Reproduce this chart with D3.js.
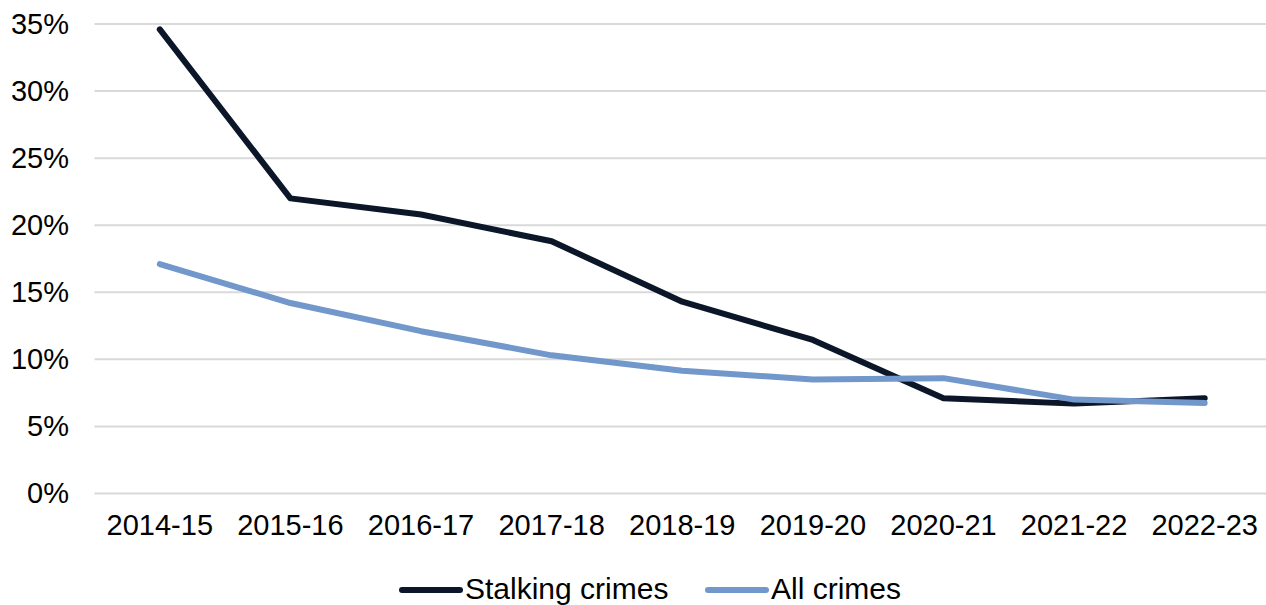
<!DOCTYPE html>
<html>
<head>
<meta charset="utf-8">
<script src="https://cdn.jsdelivr.net/npm/d3@7"></script>
<style>
  html, body { margin: 0; padding: 0; background: #fff; }
  svg { display: block; font-family: "Liberation Sans", Arial, sans-serif; }
</style>
</head>
<body>
<svg id="chart" width="1266" height="605"></svg>
<script>
// Financial years on the x axis
const years = ["2014-15", "2015-16", "2016-17", "2017-18", "2018-19", "2019-20", "2020-21", "2021-22", "2022-23"];
// Percentage values per series
const stalkingCrimes = [34.6, 22.0, 20.8, 18.8, 14.3, 11.45, 7.1, 6.7, 7.1];
const allCrimes = [17.1, 14.2, 12.1, 10.3, 9.15, 8.5, 8.6, 7.0, 6.75];
const yTicks = [0, 5, 10, 15, 20, 25, 30, 35];
const seriesNames = ["Stalking crimes", "All crimes"];
const seriesColors = ["#0b1628", "#7297cb"];

(function () {
  const svg = d3.select("#chart");
  const plotLeft = 94.5, plotRight = 1270, plotTop = 24, plotBottom = 493.5;

  const x = d3.scaleBand().domain(years).range([plotLeft, plotRight]);
  const y = d3.scaleLinear().domain([0, 35]).range([plotBottom, plotTop]);

  // Horizontal gridlines
  svg.append("g")
    .selectAll("line")
    .data(yTicks)
    .join("line")
    .attr("x1", plotLeft).attr("x2", plotRight)
    .attr("y1", d => y(d)).attr("y2", d => y(d))
    .attr("stroke", "#d9d9d9").attr("stroke-width", 2);

  // Y axis labels
  const yAxis = d3.axisLeft(y).tickValues(yTicks).tickFormat(d => d + "%").tickSize(0).tickPadding(0);
  svg.append("g")
    .attr("transform", "translate(69,0)")
    .call(yAxis)
    .call(g => g.select(".domain").remove())
    .call(g => g.selectAll("text").attr("font-size", 29).attr("fill", "#000")
      .attr("font-family", "'Liberation Sans', Arial, sans-serif"));

  // X axis labels
  const xAxis = d3.axisBottom(x).tickSize(0).tickPadding(0);
  svg.append("g")
    .attr("transform", "translate(0,514)")
    .call(xAxis)
    .call(g => g.select(".domain").remove())
    .call(g => g.selectAll("text").attr("font-size", 29).attr("fill", "#000")
      .attr("font-family", "'Liberation Sans', Arial, sans-serif"));

  const line = d3.line()
    .x((d, i) => x(years[i]) + x.bandwidth() / 2)
    .y(d => y(d));

  // Series lines (All crimes drawn last, on top)
  [stalkingCrimes, allCrimes].forEach((vals, k) => {
    svg.append("path")
      .datum(vals)
      .attr("d", line)
      .attr("fill", "none")
      .attr("stroke", seriesColors[k])
      .attr("stroke-width", 6)
      .attr("stroke-linejoin", "round")
      .attr("stroke-linecap", "round");
  });

  // Legend
  const legendItems = [
    { name: seriesNames[0], color: seriesColors[0], x0: 402 },
    { name: seriesNames[1], color: seriesColors[1], x0: 708 }
  ];
  const lg = svg.append("g");
  legendItems.forEach(it => {
    lg.append("line")
      .attr("x1", it.x0).attr("x2", it.x0 + 58)
      .attr("y1", 590).attr("y2", 590)
      .attr("stroke", it.color).attr("stroke-width", 6)
      .attr("stroke-linecap", "round");
    lg.append("text")
      .attr("x", it.x0 + 63).attr("y", 599)
      .attr("font-size", 30).attr("fill", "#000")
      .text(it.name);
  });
})();
</script>
</body>
</html>
